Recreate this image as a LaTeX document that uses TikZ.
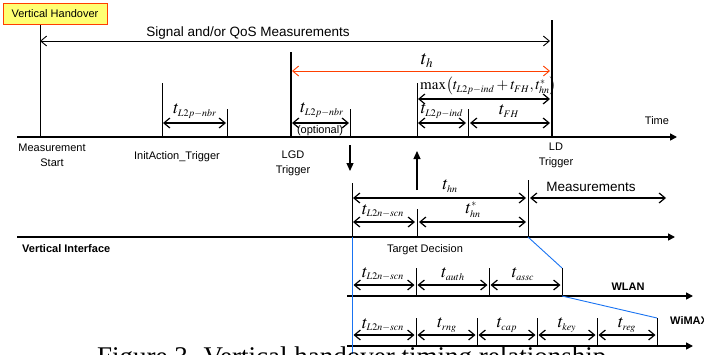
\documentclass[tikz,border=0pt]{standalone}
\usepackage{mathptmx}
\usepackage[no-math]{fontspec}
\setmainfont{Liberation Sans}
\newfontfamily\capfont{Liberation Serif}
\DeclareMathSizes{18}{18}{10}{8}
\DeclareMathSizes{15}{15}{10}{8}
\DeclareMathSizes{20}{20}{13}{10}
\usetikzlibrary{arrows.meta}
\definecolor{handred}{rgb}{1.0, 0.25, 0.0}
\definecolor{boxyellow}{rgb}{1.0, 1.0, 0.45}
\definecolor{ifblue}{rgb}{0.1, 0.45, 0.95}
\tikzstyle{hobox} = [
    rectangle,
    draw=handred,
    fill=boxyellow,
    line width=1pt,
    minimum width=104pt,
    minimum height=21pt,
    font=\fontsize{11}{13}\selectfont
]
\tikzstyle{lbl} = [
    inner sep=0pt,
    align=center,
    font=\fontsize{11}{15}\selectfont
]
\tikzstyle{tlbl} = [
    inner sep=0pt,
    font=\fontsize{18}{20}\selectfont
]
\tikzstyle{axis} = [
    -{Triangle[length=7pt,width=7pt]},
    line width=1.5pt
]
\tikzstyle{span} = [
    {Straight Barb[length=6pt,width=10pt]}-{Straight Barb[length=6pt,width=10pt]},
    line width=1.2pt
]
\tikzstyle{trigger} = [line width=2pt]
\tikzstyle{tick} = [line width=0.8pt]
\tikzstyle{link} = [draw=ifblue, line width=0.9pt]
\tikzstyle{pointer} = [
    -{Triangle[length=8pt,width=7pt]},
    line width=1.2pt
]

\begin{document}
\begin{tikzpicture}[x=1pt, y=-1pt]
    \clip (0,0) rectangle (704,354);
    % time lines
    \coordinate (timeS) at (17,137);  \coordinate (timeE) at (677,137);
    \coordinate (vifS) at (17,237);   \coordinate (vifE) at (675,237);
    \coordinate (wlanS) at (347,296); \coordinate (wlanE) at (693,296);
    \coordinate (wmaxS) at (347,346); \coordinate (wmaxE) at (693,346);
    \draw[axis] (timeS) -- (timeE);
    \draw[axis] (vifS) -- (vifE);
    \draw[axis] (wlanS) -- (wlanE);
    \draw[axis] (wmaxS) -- (wmaxE);

    \node[hobox] (vho) at (55,13.5) {Vertical Handover};

    % triggers on the upper line
    \coordinate (msT) at (40,25);
    \coordinate (iatT) at (162,83);
    \coordinate (lgdT) at (291,52);
    \coordinate (ldT) at (552,20);
    \coordinate (nbrE) at (227,109);
    \coordinate (optE) at (350,109);
    \coordinate (indS) at (417,83);
    \coordinate (indE) at (468,109);
    \draw[tick] (msT) -- (msT |- timeS);
    \draw[tick] (iatT) -- (iatT |- timeS);
    \draw[trigger] (lgdT) -- (lgdT |- timeS);
    \draw[trigger] (ldT) -- (ldT |- timeS);
    \foreach \c in {nbrE, optE, indS, indE}
        \draw[tick] (\c) -- (\c |- timeS);

    \coordinate (sigL) at (40,41);  \coordinate (sigR) at (550,41);
    \coordinate (thL) at (292,71);  \coordinate (thR) at (550,71);
    \coordinate (maxL) at (418,99); \coordinate (maxR) at (550,99);
    \draw[span, line width=0.9pt] (sigL) -- (sigR);
    \draw[span, draw=handred, line width=0.9pt] (thL) -- (thR);
    \draw[span] (maxL) -- (maxR);
    \coordinate (nbrL) at (163,123); \coordinate (nbrR) at (226,123);
    \coordinate (optL) at (292,123); \coordinate (optR) at (349,123);
    \coordinate (indL) at (418,123); \coordinate (indR) at (466,123);
    \coordinate (fhL) at (470,123);  \coordinate (fhR) at (550,123);
    \draw[span] (nbrL) -- (nbrR);
    \draw[span] (optL) -- (optR);
    \draw[span] (indL) -- (indR);
    \draw[span] (fhL) -- (fhR);

    \node[lbl, font=\fontsize{13.5}{15}\selectfont] (sig) at (248,33) {Signal and/or QoS Measurements};
    \node[tlbl, font=\fontsize{20}{22}\selectfont] (th) at (427,61) {$t_h$};
    \node[tlbl, font=\fontsize{15}{17}\selectfont, anchor=west] (max) at (420,86) {$\max\bigl(t_{L2p-ind}+t_{FH},t^{*}_{hn}\bigr)$};
    \node[tlbl] (nbr) at (195,111) {$t_{L2p-nbr}$};
    \node[tlbl] (opt) at (322,110) {$t_{L2p-nbr}$};
    \node[lbl] (optional) at (320,131) {(optional)};
    \node[tlbl] (ind) at (442,111) {$t_{L2p-ind}$};
    \node[tlbl] (fh) at (509,111) {$t_{FH}$};
    \node[lbl] (time) at (657,121) {Time};
    \node[lbl] (mstart) at (52,155) {Measurement\\Start};
    \node[lbl] (iat) at (177,157) {InitAction\_Trigger};
    \node[lbl] (lgd) at (293,163) {LGD\\Trigger};
    \node[lbl] (ld) at (556,155) {LD\\Trigger};

    % link and target decision
    \coordinate (lgdD) at (350,145); \coordinate (lgdDE) at (350,171);
    \coordinate (tdU) at (417,190);  \coordinate (tdUE) at (417,151);
    \draw[pointer] (lgdD) -- (lgdDE);
    \draw[pointer] (tdU) -- (tdUE);

    % vertical interface
    \coordinate (hnT) at (352,183);
    \coordinate (hnE) at (528,180);
    \coordinate (scnE) at (417,209);
    \draw[tick] (hnT) -- (hnT |- vifS);
    \draw[tick] (hnE) -- (hnE |- vifS);
    \draw[tick] (scnE) -- (scnE |- vifS);
    \coordinate (hnL) at (353,198);  \coordinate (hnR) at (526,198);
    \coordinate (msrL) at (530,198); \coordinate (msrR) at (666,198);
    \coordinate (scnL) at (353,222); \coordinate (scnR) at (415,222);
    \coordinate (hsL) at (419,222);  \coordinate (hsR) at (526,222);
    \draw[span] (hnL) -- (hnR);
    \draw[span] (msrL) -- (msrR);
    \draw[span] (scnL) -- (scnR);
    \draw[span] (hsL) -- (hsR);
    \node[tlbl] (hn) at (450,186) {$t_{hn}$};
    \node[lbl, font=\fontsize{13.5}{15}\selectfont] (msr) at (591,187) {Measurements};
    \node[tlbl] (scn) at (383,211) {$t_{L2n-scn}$};
    \node[tlbl] (hs) at (473,210) {$t^{*}_{hn}$};
    \node[lbl, font=\fontsize{11}{13}\bfseries, anchor=west] (vif) at (22,249) {Vertical Interface};
    \node[lbl] (td) at (425,250) {Target Decision};

    % WLAN
    \foreach \x [count=\i] in {352,416,489,562}
        \coordinate (wl\i) at (\x,268);
    \foreach \i in {2,3,4}
        \draw[tick] (wl\i) -- (wl\i |- wlanS);
    \foreach \i [evaluate=\i as \j using int(\i+1)] in {1,2,3}
        \draw[span, shorten <=1.5pt, shorten >=1.5pt] ([yshift=-17pt]wl\i) -- ([yshift=-17pt]wl\j);
    \node[tlbl] (wscn) at (383,274) {$t_{L2n-scn}$};
    \node[tlbl] (auth) at (453,274) {$t_{auth}$};
    \node[tlbl] (assc) at (523,274) {$t_{assc}$};
    \node[lbl, font=\fontsize{11}{13}\bfseries] (wlan) at (628,287) {WLAN};

    % WiMAX
    \foreach \x [count=\i] in {352,416,477,537,597,657}
        \coordinate (wm\i) at (\x,318);
    \foreach \i in {2,...,6}
        \draw[tick] (wm\i) -- (wm\i |- wmaxS);
    \foreach \i [evaluate=\i as \j using int(\i+1)] in {1,...,5}
        \draw[span, shorten <=1.5pt, shorten >=1.5pt] ([yshift=-17pt]wm\i) -- ([yshift=-17pt]wm\j);
    \node[tlbl] (mscn) at (383,325) {$t_{L2n-scn}$};
    \node[tlbl] (rng) at (447,325) {$t_{rng}$};
    \node[tlbl] (cap) at (507,325) {$t_{cap}$};
    \node[tlbl] (key) at (567,325) {$t_{key}$};
    \node[tlbl] (reg) at (627,325) {$t_{reg}$};
    \node[lbl, font=\fontsize{11}{13}\bfseries, anchor=west] (wmax) at (670,321) {WiMAX};

    % interface links
    \draw[link] (hnT |- vifS) -- (hnT |- 0,354);
    \draw[link] (hnE |- vifS) -- (wl4);
    \draw[link] (wl4 |- wlanS) -- (wm6);

    \node[anchor=base west, inner sep=0pt, font=\capfont\fontsize{27}{29}\selectfont] (caption) at (97,365) {Figure 3. Vertical handover timing relationship};
\end{tikzpicture}
\end{document}
